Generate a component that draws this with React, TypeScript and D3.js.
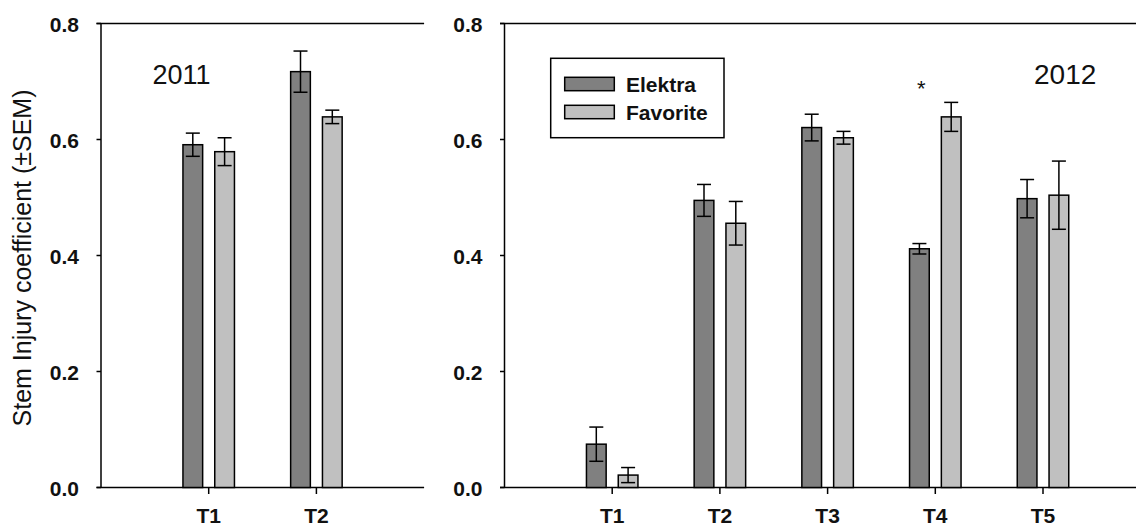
import React from "react";
import * as d3 from "d3";

// Stem injury coefficient (mean ± SEM) for two cultivars, per treatment
const cultivars = ["Elektra", "Favorite"];
const fills = ["#808080", "#c0c0c0"];

const treatments2011 = ["T1", "T2"];
const elektra2011 = [0.591, 0.717];
const elektraSem2011 = [0.020, 0.0355];
const favorite2011 = [0.579, 0.639];
const favoriteSem2011 = [0.024, 0.0116];

const treatments2012 = ["T1", "T2", "T3", "T4", "T5"];
const elektra2012 = [0.0747, 0.495, 0.6206, 0.4116, 0.498];
const elektraSem2012 = [0.0295, 0.0275, 0.023, 0.009, 0.033];
const favorite2012 = [0.0214, 0.4556, 0.603, 0.639, 0.504];
const favoriteSem2012 = [0.013, 0.0376, 0.011, 0.025, 0.0588];

const yTicks = [0, 0.2, 0.4, 0.6, 0.8];
const yTitle = "Stem Injury coefficient (±SEM)";
const significant2012 = ["T4"];

const W = 1136;
const H = 526;
const TOP = 23.5;
const ZERO = 487.5;
const STEP = 107.7;
const BAR_W = 19.7;
const BAR_OFF = 15.9;
const CAP = 7;
const FONT = "Liberation Sans, Arial, Helvetica, sans-serif";

const y = d3.scaleLinear().domain([0, 0.8]).range([ZERO, TOP]);
const fmt = d3.format(".1f");

type PanelProps = {
  x0: number;
  slots: number;
  cats: string[];
  series: number[][];
  sems: number[][];
  lineEnd: number;
};

function Panel({ x0, slots, cats, series, sems, lineEnd }: PanelProps) {
  const x = d3.scaleLinear().domain([0, slots]).range([x0, x0 + slots * STEP]);
  return (
    <g>
      {/* frame: top line, y axis, baseline */}
      <line x1={x0 - 4.5} x2={lineEnd} y1={y(0.8)} y2={y(0.8)} stroke="#000" strokeWidth={1.5} />
      <line x1={x0 - 4.5} x2={lineEnd} y1={y(0)} y2={y(0)} stroke="#000" strokeWidth={1.5} />
      <line x1={x0} x2={x0} y1={y(0.8)} y2={y(0)} stroke="#000" strokeWidth={1.5} />
      {yTicks.map((t) => (
        <g key={t}>
          <line x1={x0 - 4.5} x2={x0} y1={y(t)} y2={y(t)} stroke="#000" strokeWidth={1.5} />
          <text
            x={x0 - 22}
            y={y(t) + 8.5}
            textAnchor="end"
            fontFamily={FONT}
            fontWeight="bold"
            fontSize={21}
            fill="#111"
          >
            {fmt(t)}
          </text>
        </g>
      ))}
      {cats.map((c, i) => {
        const cx = x(i + 1);
        return (
          <g key={c}>
            <line x1={cx} x2={cx} y1={y(0)} y2={y(0) + 6.5} stroke="#000" strokeWidth={1.5} />
            <text
              x={cx}
              y={523}
              textAnchor="middle"
              fontFamily={FONT}
              fontWeight="bold"
              fontSize={21}
              fill="#111"
            >
              {c}
            </text>
            {series.map((vals, s) => {
              const bx = cx + (s === 0 ? -BAR_OFF : BAR_OFF);
              const v = vals[i];
              const e = sems[s][i];
              return (
                <g key={s}>
                  <rect
                    x={bx - BAR_W / 2}
                    y={y(v)}
                    width={BAR_W}
                    height={y(0) - y(v)}
                    fill={fills[s]}
                    stroke="#000"
                    strokeWidth={1.5}
                  />
                  <line x1={bx} x2={bx} y1={y(v + e)} y2={y(v - e)} stroke="#000" strokeWidth={1.5} />
                  <line x1={bx - CAP} x2={bx + CAP} y1={y(v + e)} y2={y(v + e)} stroke="#000" strokeWidth={1.5} />
                  <line x1={bx - CAP} x2={bx + CAP} y1={y(v - e)} y2={y(v - e)} stroke="#000" strokeWidth={1.5} />
                </g>
              );
            })}
          </g>
        );
      })}
    </g>
  );
}

export default function App() {
  const leftX0 = 101;
  const rightX0 = 504.5;
  const xRight = d3.scaleLinear().domain([0, 6]).range([rightX0, rightX0 + 6 * STEP]);
  return (
    <svg
      width={W}
      height={H}
      style={{ position: "absolute", left: 0, top: 0, background: "#fff" }}
    >
      <rect x={0} y={0} width={W} height={H} fill="#fff" />
      <text
        transform={`translate(31, 258) rotate(-90)`}
        textAnchor="middle"
        fontFamily={FONT}
        fontSize={25}
        fill="#111"
      >
        {yTitle}
      </text>

      <Panel
        x0={leftX0}
        slots={3}
        cats={treatments2011}
        series={[elektra2011, favorite2011]}
        sems={[elektraSem2011, favoriteSem2011]}
        lineEnd={leftX0 + 3 * STEP}
      />
      <text x={152.5} y={83.5} fontFamily={FONT} fontSize={27} fill="#111">
        2011
      </text>

      <Panel
        x0={rightX0}
        slots={6}
        cats={treatments2012}
        series={[elektra2012, favorite2012]}
        sems={[elektraSem2012, favoriteSem2012]}
        lineEnd={W}
      />
      <text x={1034} y={84} fontFamily={FONT} fontSize={28} fill="#111">
        2012
      </text>
      {significant2012.map((c) => {
        const i = treatments2012.indexOf(c);
        return (
          <text
            key={c}
            x={xRight(i + 1) - BAR_OFF + 2}
            y={96}
            textAnchor="middle"
            fontFamily={FONT}
            fontSize={22}
            fill="#111"
          >
            *
          </text>
        );
      })}

      {/* legend */}
      <g>
        <rect x={550.7} y={58.3} width={173.3} height={79.4} fill="#fff" stroke="#000" strokeWidth={1.5} />
        {cultivars.map((name, i) => (
          <g key={name}>
            <rect
              x={564.7}
              y={77.3 + i * 28}
              width={49.6}
              height={13.4}
              fill={fills[i]}
              stroke="#000"
              strokeWidth={1.5}
            />
            <text
              x={626}
              y={91.5 + i * 28}
              fontFamily={FONT}
              fontWeight="bold"
              fontSize={21}
              fill="#111"
            >
              {name}
            </text>
          </g>
        ))}
      </g>
    </svg>
  );
}
